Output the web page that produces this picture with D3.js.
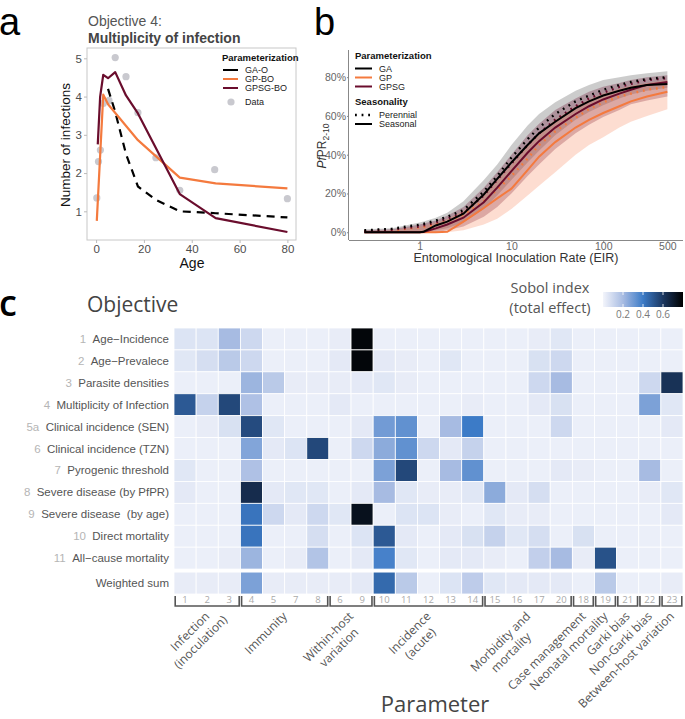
<!DOCTYPE html>
<html><head><meta charset="utf-8">
<script src="https://cdn.jsdelivr.net/npm/d3@7"></script>
<style>
body{margin:0;background:#fff}
svg{display:block}
text{font-family:"Liberation Sans",Arial,sans-serif}
.big{font-family:"Open Sans","Noto Sans",sans-serif}
</style>
</head><body>
<svg id="c" width="685" height="719"></svg>
<script>
// ---------------- Panel a data ----------------
const moiDataAge = [0.3, 1, 1.8, 3, 5.4, 8, 12.5, 17.5, 25, 35, 49.6, 80];
const moiDataVal = [1.35, 2.3, 2.6, 3.82, 3.9, 5.02, 4.52, 3.58, 2.4, 1.55, 2.09, 1.33];
const gaoAge = [5, 8, 12.5, 17.5, 25, 35, 50, 80];
const gaoVal = [4.2, 3.6, 2.5, 1.65, 1.3, 1.0, 0.95, 0.84];
const gpboAge = [0.3, 3, 5, 17.5, 35, 50, 80];
const gpboVal = [0.75, 4.05, 3.8, 2.86, 1.88, 1.73, 1.6];
const gpsgAge = [0.7, 1.7, 3, 5, 8, 12.5, 17.5, 35, 50, 80];
const gpsgVal = [2.75, 4.0, 4.57, 4.48, 4.64, 4.03, 3.56, 1.45, 0.82, 0.46];
const aTicksX = [0, 20, 40, 60, 80];
const aTicksY = [1, 2, 3, 4, 5];

// ---------------- Panel b data ----------------
const eir = [0.25, 0.5, 1, 1.1, 1.5, 2, 3, 5, 7, 10, 15, 20, 30, 50, 70, 100, 150, 200, 300, 500];
const gaSeasonal  = [0,0,0,0.2,3.5,5.5,9.6,19.5,27.5,36,45,51,57,64,67.5,70.5,73,74.5,76,76.5];
const gaPerennial = [1,1.8,3.9,4.3,6,8,11.4,21,29,38.5,48,54,61,67.5,70.5,73.5,76,77.5,79,80];
const gpsgSeasonal  = [0,0,0,0.1,2,4,7.5,15.5,23,31.5,41,47,54,61,65,68.5,71.5,73.5,76,77.5];
const gpsgPerennial = [0.5,1.3,3,3.5,5,7,10,19,27,35.5,45,51,58,65,69,72,75,76.5,78.5,79.5];
const gpSeasonal  = [0,0,0,0,0,0.2,5.5,12.5,17.5,22.5,32,39,46.5,54,58,61.5,65,67.5,70,72.5];
const gpPerennial = [0.5,1,2.5,2.8,4,5.5,9,16,22,29,38,45,52,59,63.5,67,70,71.5,73.5,75];
const gaLow  = [0,0,0,0,1,2,5,12,19,27,36,42,50,58,62,65.5,69,71,73,74.5];
const gaHigh = [1.5,2,5,5.5,7.5,10,16,27,35,45,55,61,67,73,76,78.5,80,81,82,83];
const gpsgLow  = [0,0,0,0,0,1,3,8,13,20,29,35,43,51,55.5,59.5,63,66,68,70];
const gpsgHigh = [1,1.5,4,4.5,6,8.5,13,23,31,40,50,56,63,69,72.5,75,77,78.5,80,81];
const gpLow  = [0,0,0,0,0,0,1,4,7,12,19,24,31,40,45,49,54,57,60,63.5];
const gpHigh = [0.5,1,3,3.3,5,7,11,20,27,35,45,51,58,65,68.5,71.5,74,75.5,77,78.5];
const bTicksX = [1, 10, 100, 500];
const bTicksY = [0, 20, 40, 60, 80];

// ---------------- Panel c data ----------------
const paramOrder = ["1","2","3","4","5","7","8","6","9","10","11","12","13","14","15","16","17","20","18","19","21","22","23"];
const objNums  = ["1","2","3","4","5a","6","7","8","9","10","11",""];
const objNames = ["Age\u2212Incidence","Age\u2212Prevalece","Parasite densities","Multiplicity of Infection",
  "Clinical incidence (SEN)","Clinical incidence (TZN)","Pyrogenic threshold","Severe disease (by PfPR)",
  "Severe disease \u00a0(by age)","Direct mortality","All\u2212cause mortality","Weighted sum"];
const sobol = [
 [0.06,0.06,0.20,0.10,0.02,0.02,0.02,0.03,0.78,0.02,0.02,0.02,0.02,0.02,0.02,0.02,0.03,0.05,0.02,0.02,0.02,0.02,0.02],
 [0.05,0.08,0.15,0.10,0.02,0.02,0.02,0.04,0.78,0.04,0.03,0.02,0.05,0.02,0.02,0.02,0.07,0.10,0.02,0.02,0.02,0.02,0.02],
 [0.02,0.02,0.02,0.22,0.15,0.03,0.03,0.03,0.04,0.05,0.03,0.02,0.02,0.02,0.02,0.02,0.10,0.20,0.02,0.02,0.02,0.10,0.62],
 [0.50,0.12,0.55,0.18,0.02,0.02,0.02,0.04,0.02,0.02,0.02,0.02,0.02,0.03,0.02,0.02,0.04,0.07,0.02,0.02,0.02,0.28,0.05],
 [0.02,0.03,0.07,0.54,0.05,0.02,0.02,0.02,0.04,0.30,0.33,0.02,0.20,0.40,0.02,0.02,0.02,0.10,0.02,0.02,0.02,0.02,0.04],
 [0.02,0.02,0.02,0.27,0.04,0.06,0.55,0.02,0.10,0.25,0.33,0.10,0.04,0.12,0.02,0.02,0.02,0.02,0.02,0.02,0.02,0.02,0.02],
 [0.05,0.02,0.02,0.18,0.02,0.02,0.02,0.02,0.02,0.28,0.55,0.02,0.20,0.33,0.02,0.02,0.02,0.04,0.03,0.02,0.02,0.20,0.02],
 [0.04,0.02,0.02,0.64,0.04,0.05,0.05,0.02,0.04,0.20,0.05,0.03,0.03,0.05,0.25,0.04,0.08,0.02,0.02,0.02,0.02,0.03,0.05],
 [0.02,0.02,0.02,0.42,0.10,0.04,0.10,0.05,0.74,0.02,0.06,0.06,0.03,0.02,0.05,0.03,0.03,0.02,0.02,0.02,0.02,0.02,0.04],
 [0.02,0.02,0.02,0.42,0.02,0.02,0.08,0.02,0.06,0.50,0.04,0.02,0.04,0.07,0.12,0.05,0.08,0.02,0.07,0.02,0.02,0.02,0.02],
 [0.02,0.02,0.03,0.22,0.02,0.03,0.17,0.02,0.04,0.38,0.05,0.02,0.04,0.04,0.03,0.02,0.13,0.20,0.03,0.52,0.02,0.02,0.02],
 [0.03,0.03,0.03,0.28,0.03,0.03,0.03,0.03,0.04,0.45,0.15,0.02,0.06,0.14,0.05,0.04,0.04,0.04,0.02,0.15,0.02,0.02,0.03]
];
const groupNames = [["Infection","(inoculation)"],["Immunity"],["Within-host","variation"],["Incidence","(acute)"],
  ["Morbidity and","mortality"],["Case management"],["Neonatal mortality"],["Garki bias"],["Non-Garki bias"],["Between-host variation"]];
const groupSizes = [3,4,2,5,4,1,1,1,1,1];
const legendTicks = [0.2, 0.4, 0.6];

const svg = d3.select("#c");
const BLACK = "#000000", ORANGE = "#f47a3e", MAROON = "#6a0d2d";

// panel letters
svg.append("text").attr("x",-1).attr("y",35).attr("font-size",38).attr("fill","#000").text("a");
svg.append("text").attr("x",314).attr("y",35).attr("font-size",38).attr("fill","#000").text("b");
svg.append("text").attr("class","big").attr("x",-1).attr("y",316).attr("font-size",36).attr("font-weight",600).attr("fill","#000").text("c");

// ================= Panel a =================
const ax = d3.scaleLinear().domain([-3.8, 83.6]).range([87, 296]);
const ay = d3.scaleLinear().domain([0.25, 5.27]).range([240, 48]);
const ga = svg.append("g");
ga.append("text").attr("x",88).attr("y",26).attr("font-size",14).attr("fill","#555").text("Objective 4:");
ga.append("text").attr("x",88).attr("y",43).attr("font-size",14).attr("font-weight","bold").attr("fill","#444").text("Multiplicity of infection");
ga.append("rect").attr("x",87).attr("y",48).attr("width",209).attr("height",192).attr("fill","none").attr("stroke","#c8c8c8").attr("stroke-width",1);
function styleAxis(g, col, fs){
  g.select(".domain").remove();
  g.selectAll(".tick line").attr("stroke","#bbb");
  g.selectAll(".tick text").attr("fill",col).attr("font-size",fs).attr("font-family","Liberation Sans, Arial, sans-serif");
}
ga.append("g").attr("transform","translate(0,240)")
  .call(d3.axisBottom(ax).tickValues(aTicksX).tickFormat(d3.format("d")).tickSize(3).tickPadding(2))
  .call(g=>styleAxis(g,"#4d4d4d",11.5));
ga.append("g").attr("transform","translate(87,0)")
  .call(d3.axisLeft(ay).tickValues(aTicksY).tickFormat(d3.format("d")).tickSize(3).tickPadding(2))
  .call(g=>styleAxis(g,"#4d4d4d",11.5));
ga.append("text").attr("x",192).attr("y",268).attr("text-anchor","middle").attr("font-size",14).attr("fill","#111").text("Age");
ga.append("text").attr("transform","translate(70,145) rotate(-90)").attr("text-anchor","middle").attr("font-size",13.5).attr("fill","#111").text("Number of infections");

const lineA = d3.line().x(d=>ax(d[0])).y(d=>ay(d[1]));
ga.selectAll("circle.data").data(d3.zip(moiDataAge, moiDataVal)).join("circle")
  .attr("cx",d=>ax(d[0])).attr("cy",d=>ay(d[1])).attr("r",3.6).attr("fill","#c9c9cf");
ga.append("path").datum(d3.zip(gaoAge,gaoVal)).attr("d",lineA).attr("fill","none").attr("stroke",BLACK).attr("stroke-width",2.2).attr("stroke-dasharray","8 6");
ga.append("path").datum(d3.zip(gpboAge,gpboVal)).attr("d",lineA).attr("fill","none").attr("stroke",ORANGE).attr("stroke-width",2.2).attr("stroke-linejoin","round");
ga.append("path").datum(d3.zip(gpsgAge,gpsgVal)).attr("d",lineA).attr("fill","none").attr("stroke",MAROON).attr("stroke-width",2.2).attr("stroke-linejoin","round");

// legend a
const la = ga.append("g");
la.append("text").attr("x",222).attr("y",61).attr("font-size",9.5).attr("font-weight","bold").attr("fill","#111").text("Parameterization");
[["GA-O",BLACK],["GP-BO",ORANGE],["GPSG-BO",MAROON]].forEach((e,i)=>{
  const y = 70 + i*9;
  la.append("line").attr("x1",223).attr("x2",238).attr("y1",y).attr("y2",y).attr("stroke",e[1]).attr("stroke-width",2);
  la.append("text").attr("x",245).attr("y",y+3.2).attr("font-size",9).attr("fill","#222").text(e[0]);
});
la.append("circle").attr("cx",231).attr("cy",102).attr("r",3.6).attr("fill","#c9c9cf");
la.append("text").attr("x",245).attr("y",105.2).attr("font-size",9).attr("fill","#222").text("Data");

// ================= Panel b =================
const bx = d3.scaleLog().domain([0.17, 740]).range([349, 683]);
const by = d3.scaleLinear().domain([-4, 94]).range([240, 50]);
const gb = svg.append("g");
const area = (lo,hi)=>d3.area().x((d,i)=>bx(eir[i])).y0((d,i)=>by(lo[i])).y1((d,i)=>by(hi[i]))(eir);
gb.append("path").attr("d",area(gaLow,gaHigh)).attr("fill","#000").attr("fill-opacity",0.2);
gb.append("path").attr("d",area(gpsgLow,gpsgHigh)).attr("fill",MAROON).attr("fill-opacity",0.3);
gb.append("path").attr("d",area(gpLow,gpHigh)).attr("fill","#f9855a").attr("fill-opacity",0.28);
const lineB = vals => d3.line().x((d,i)=>bx(eir[i])).y((d,i)=>by(vals[i]))(eir);
const dotted = "1.8 4.8";
gb.append("path").attr("d",lineB(gpPerennial)).attr("fill","none").attr("stroke",ORANGE).attr("stroke-width",2.4).attr("stroke-dasharray",dotted);
gb.append("path").attr("d",lineB(gpSeasonal)).attr("fill","none").attr("stroke",ORANGE).attr("stroke-width",2);
gb.append("path").attr("d",lineB(gpsgPerennial)).attr("fill","none").attr("stroke",MAROON).attr("stroke-width",2.4).attr("stroke-dasharray",dotted);
gb.append("path").attr("d",lineB(gpsgSeasonal)).attr("fill","none").attr("stroke",MAROON).attr("stroke-width",2);
gb.append("path").attr("d",lineB(gaPerennial)).attr("fill","none").attr("stroke",BLACK).attr("stroke-width",2.4).attr("stroke-dasharray",dotted);
gb.append("path").attr("d",lineB(gaSeasonal)).attr("fill","none").attr("stroke",BLACK).attr("stroke-width",2);

gb.append("g").attr("transform","translate(0,240)")
  .call(d3.axisBottom(bx).tickValues(bTicksX).tickFormat(d3.format("d")).tickSize(2).tickPadding(1))
  .call(g=>{g.select(".domain").attr("stroke","#888").attr("d","M349,0.5H683");
    g.selectAll(".tick line").attr("stroke","#888");
    g.selectAll(".tick text").attr("fill","#666").attr("font-size",10.5);});
gb.append("g").attr("transform","translate(349,0)")
  .call(d3.axisLeft(by).tickValues(bTicksY).tickFormat(d=>d+"%").tickSize(2).tickPadding(1))
  .call(g=>{g.select(".domain").attr("stroke","#888").attr("d","M-0.5,50V240");
    g.selectAll(".tick line").attr("stroke","#888");
    g.selectAll(".tick text").attr("fill","#666").attr("font-size",10.5);});
gb.append("text").attr("x",516).attr("y",262).attr("text-anchor","middle").attr("font-size",12.5).attr("fill","#333").text("Entomological Inoculation Rate (EIR)");
const yt = gb.append("text").attr("transform","translate(326,146) rotate(-90)").attr("text-anchor","middle").attr("font-size",12).attr("fill","#333");
yt.append("tspan").attr("font-style","italic").text("Pf");
yt.append("tspan").text("PR");
yt.append("tspan").attr("font-size",8.5).attr("dy",2.5).text("2-10");

// legend b
const lb = gb.append("g");
lb.append("rect").attr("x",352).attr("y",49).attr("width",72).attr("height",82).attr("fill","#fff");
lb.append("text").attr("x",355).attr("y",59).attr("font-size",9.5).attr("font-weight","bold").attr("fill","#111").text("Parameterization");
[["GA",BLACK],["GP",ORANGE],["GPSG",MAROON]].forEach((e,i)=>{
  const y = 68.5 + i*9;
  lb.append("line").attr("x1",355).attr("x2",372).attr("y1",y).attr("y2",y).attr("stroke",e[1]).attr("stroke-width",2);
  lb.append("text").attr("x",379).attr("y",y+3.2).attr("font-size",9).attr("fill","#222").text(e[0]);
});
lb.append("text").attr("x",355).attr("y",105).attr("font-size",9.5).attr("font-weight","bold").attr("fill","#111").text("Seasonality");
[["Perennial",dotted,2.4],["Seasonal",null,2]].forEach((e,i)=>{
  const y = 115 + i*9;
  const l = lb.append("line").attr("x1",355).attr("x2",372).attr("y1",y).attr("y2",y).attr("stroke","#000").attr("stroke-width",e[2]);
  if(e[1]) l.attr("stroke-dasharray",e[1]);
  lb.append("text").attr("x",379).attr("y",y+3.2).attr("font-size",9).attr("fill","#222").text(e[0]);
});

// ================= Panel c =================
const gc = svg.append("g");
gc.append("text").attr("class","big").attr("x",87).attr("y",312).attr("font-size",21).attr("fill","#444").text("Objective");
gc.append("text").attr("class","big").attr("x",550).attr("y",293).attr("text-anchor","middle").attr("font-size",14.5).attr("fill","#555").text("Sobol index");
gc.append("text").attr("class","big").attr("x",550).attr("y",313).attr("text-anchor","middle").attr("font-size",14.5).attr("fill","#555").text("(total effect)");
gc.append("text").attr("class","big").attr("x",435).attr("y",712).attr("text-anchor","middle").attr("font-size",22).attr("fill","#444").text("Parameter");

const hx = d3.scaleBand().domain(paramOrder).range([174, 683]);
const hy = d3.scaleBand().domain(d3.range(objNames.length)).range([328, 591]);
const rowY = i => hy(i) + (i === objNames.length-1 ? 3 : 0);
const color = d3.scaleLinear().domain([0,0.2,0.4,0.6,0.8]).range(["#f3f5fb","#a7bbe2","#3c7bc7","#1b3760","#000000"]).clamp(true);

sobol.forEach((row, i)=>{
  gc.selectAll("rect.r"+i).data(row).join("rect")
    .attr("x",(d,j)=>hx(paramOrder[j])).attr("y",rowY(i))
    .attr("width",hx.bandwidth()).attr("height",hy.bandwidth())
    .attr("fill",d=>color(d)).attr("stroke","#fff").attr("stroke-width",0.8);
});
// row labels
objNames.forEach((name,i)=>{
  const t = gc.append("text").attr("x",169).attr("y",rowY(i)+hy.bandwidth()/2+4).attr("text-anchor","end").attr("font-size",11.5);
  if(objNums[i]) t.append("tspan").attr("fill","#b5b5b5").text(objNums[i]+"\u00a0\u00a0");
  t.append("tspan").attr("fill","#555").text(name);
});
// column numbers
gc.selectAll("text.colnum").data(paramOrder).join("text").attr("class","big")
  .attr("x",d=>hx(d)+hx.bandwidth()/2).attr("y",603).attr("text-anchor","middle")
  .attr("font-size",9.5).attr("fill","#aaa").text(d=>d);
// brackets & group labels
let start = 0;
groupSizes.forEach((n,gi)=>{
  const x0 = hx(paramOrder[start]) + 1.2;
  const x1 = hx(paramOrder[start+n-1]) + hx.bandwidth() - 1.2;
  gc.append("path").attr("d",`M${x0},596V606H${x1}V596`).attr("fill","none").attr("stroke","#555").attr("stroke-width",1.6);
  const cx = (x0+x1)/2 + 3;
  const lg = gc.append("g").attr("transform",`translate(${cx},617) rotate(-45)`);
  const lines = groupNames[gi];
  const t1 = lg.append("text").attr("class","big").attr("x",0).attr("y",0).attr("text-anchor","end").attr("font-size",12).attr("fill","#555").text(lines[0]);
  if(lines.length>1){
    const L = t1.node().getComputedTextLength();
    lg.append("text").attr("class","big").attr("x",-L/2).attr("y",15).attr("text-anchor","middle").attr("font-size",12).attr("fill","#555").text(lines[1]);
  }
  start += n;
});
// colour legend
const lgx = d3.scaleLinear().domain([0,0.8]).range([603,683]);
const defs = svg.append("defs");
const grad = defs.append("linearGradient").attr("id","sg");
d3.range(0,1.0001,0.05).forEach(f=>grad.append("stop").attr("offset",f).attr("stop-color",color(f*0.8)));
gc.append("rect").attr("x",lgx(0)).attr("y",292).attr("width",lgx(0.8)-lgx(0)).attr("height",15).attr("fill","url(#sg)");
legendTicks.forEach(v=>{
  gc.append("line").attr("x1",lgx(v)).attr("x2",lgx(v)).attr("y1",292).attr("y2",295).attr("stroke","#fff").attr("stroke-width",0.8);
  gc.append("line").attr("x1",lgx(v)).attr("x2",lgx(v)).attr("y1",304).attr("y2",307).attr("stroke","#fff").attr("stroke-width",0.8);
  gc.append("text").attr("class","big").attr("x",lgx(v)).attr("y",318).attr("text-anchor","middle").attr("font-size",10).attr("fill","#777").text(v.toFixed(1));
});
</script>
</body></html>
